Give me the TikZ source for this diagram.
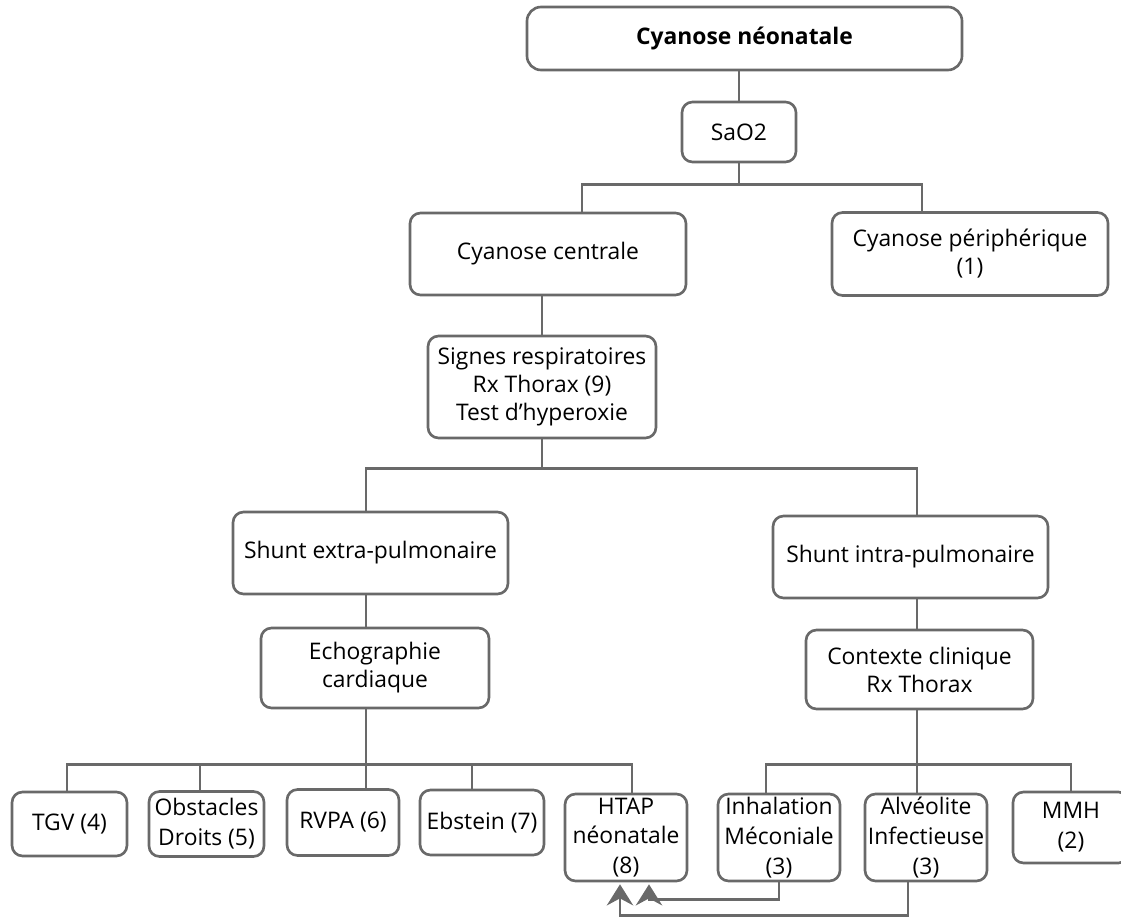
\documentclass[tikz,border=0pt]{standalone}
\usepackage{fontspec}
\setmainfont{Open Sans}
\usepackage{tikz}
\usetikzlibrary{arrows.meta}
\definecolor{linegray}{RGB}{105,105,105}
\tikzstyle{box} = [rectangle, rounded corners=6pt, draw=linegray, line width=1.5pt,
align=center, inner sep=1pt, text=black, font=\fontsize{13}{16}\selectfont]
\tikzstyle{rootbox} = [box, rounded corners=8pt, font=\fontsize{13}{16}\selectfont\bfseries]
\tikzstyle{leaf} = [box, font=\fontsize{13}{17}\selectfont]
\tikzstyle{link} = [draw=linegray, line width=1.5pt]
\tikzstyle{arrow} = [link, ->, >={Stealth[length=12pt,width=15pt,inset=4pt]}]

\begin{document}
\begin{tikzpicture}[node distance=2.5cm]
\useasboundingbox (0,0) rectangle (22.42,-18.34);

\node(top)[rootbox, minimum width=8.7cm, minimum height=1.26cm] at (14.89,-0.77){Cyanose néonatale};
\node(sao)[box, minimum width=2.28cm, minimum height=1.2cm, below of=top, xshift=-0.11cm, yshift=0.63cm]{SaO2};
\node(centrale)[box, minimum width=5.52cm, minimum height=1.64cm, below of=sao, xshift=-3.82cm, yshift=0.06cm]{Cyanose centrale};
\node(periph)[box, minimum width=5.52cm, minimum height=1.66cm, right of=centrale, xshift=5.94cm]{Cyanose périphérique\\(1)};
\node(signes)[box, minimum width=4.56cm, minimum height=2.04cm, below of=centrale, xshift=-0.12cm, yshift=-0.16cm]{Signes respiratoires\\Rx Thorax (9)\\Test d’hyperoxie};
\node(extra)[box, minimum width=5.5cm, minimum height=1.64cm, below of=signes, xshift=-3.43cm, yshift=-0.82cm]{Shunt extra-pulmonaire};
\node(intra)[box, minimum width=5.5cm, minimum height=1.64cm, right of=extra, xshift=8.3cm, yshift=-0.08cm]{Shunt intra-pulmonaire};
\node(echo)[box, minimum width=4.56cm, minimum height=1.6cm, below of=extra, xshift=0.09cm, yshift=0.2cm]{Echographie\\cardiaque};
\node(contexte)[box, minimum width=4.54cm, minimum height=1.58cm, below of=intra, xshift=0.18cm, yshift=0.25cm]{Contexte clinique\\Rx Thorax};

% leaves
\node(tgv)[leaf, minimum width=2.3cm, minimum height=1.28cm, below of=echo, xshift=-6.11cm, yshift=-0.62cm]{TGV (4)};
\node(obstacles)[leaf, minimum width=2.3cm, minimum height=1.3cm, right of=tgv, xshift=0.24cm]{Obstacles\\Droits (5)};
\node(rvpa)[leaf, minimum width=2.24cm, minimum height=1.32cm, right of=obstacles, xshift=0.23cm, yshift=0.03cm]{RVPA (6)};
\node(ebstein)[leaf, minimum width=2.48cm, minimum height=1.3cm, right of=rvpa, xshift=0.28cm]{Ebstein (7)};
\node(htap)[leaf, minimum width=2.44cm, minimum height=1.74cm, right of=ebstein, xshift=0.38cm, yshift=-0.3cm]{HTAP\\néonatale\\(8)};
\node(inhal)[leaf, minimum width=2.44cm, minimum height=1.74cm, right of=htap, xshift=0.56cm]{Inhalation\\Méconiale\\(3)};
\node(alveo)[leaf, minimum width=2.44cm, minimum height=1.74cm, right of=inhal, xshift=0.44cm]{Alvéolite\\Infectieuse\\(3)};
\node(mmh)[leaf, minimum width=2.32cm, minimum height=1.42cm, right of=alveo, xshift=0.4cm, yshift=0.2cm]{MMH\\(2)};

\draw[link](sao.north) -- (sao.north |- top.south);
\draw[link](sao.south) -- ++(0,-0.42) coordinate(fork1);
\draw[link]([xshift=0.68cm]centrale.north) |- (fork1) -| ([xshift=-0.96cm]periph.north);
\draw[link](signes.north) -- (signes.north |- centrale.south);
\draw[link](signes.south) -- ++(0,-0.58) coordinate(fork2);
\draw[link]([xshift=-0.09cm]extra.north) |- (fork2) -| ([xshift=0.13cm]intra.north);
\draw[link]([xshift=-0.09cm]extra.south) -- ([xshift=-0.09cm]extra.south |- echo.north);
\draw[link]([xshift=-0.05cm]contexte.north) -- ([xshift=-0.05cm]contexte.north |- intra.south);

\draw[link]([xshift=-0.18cm]echo.south) -- ++(0,-1.1) coordinate(fork3) -- (fork3 |- rvpa.north);
\draw[link]([xshift=-0.05cm]tgv.north) |- (fork3) -| ([xshift=0.12cm]htap.north);
\draw[link]([xshift=-0.13cm]obstacles.north) -- ([xshift=-0.13cm]obstacles.north |- fork3);
\draw[link]([xshift=-0.2cm]ebstein.north) -- ([xshift=-0.2cm]ebstein.north |- fork3);

\draw[link]([xshift=-0.05cm]contexte.south) -- ++(0,-1.08) coordinate(fork4) -- (fork4 |- alveo.north);
\draw[link]([xshift=-0.26cm]inhal.north) |- (fork4) -| (mmh.north);

\draw[arrow](inhal.south) -- ++(0,-0.34) -| ([xshift=0.46cm,yshift=-0.04cm]htap.south);
\draw[arrow]([xshift=-0.36cm]alveo.south) -- ++(0,-0.66) -| ([xshift=-0.12cm,yshift=-0.04cm]htap.south);

\end{tikzpicture}
\end{document}
